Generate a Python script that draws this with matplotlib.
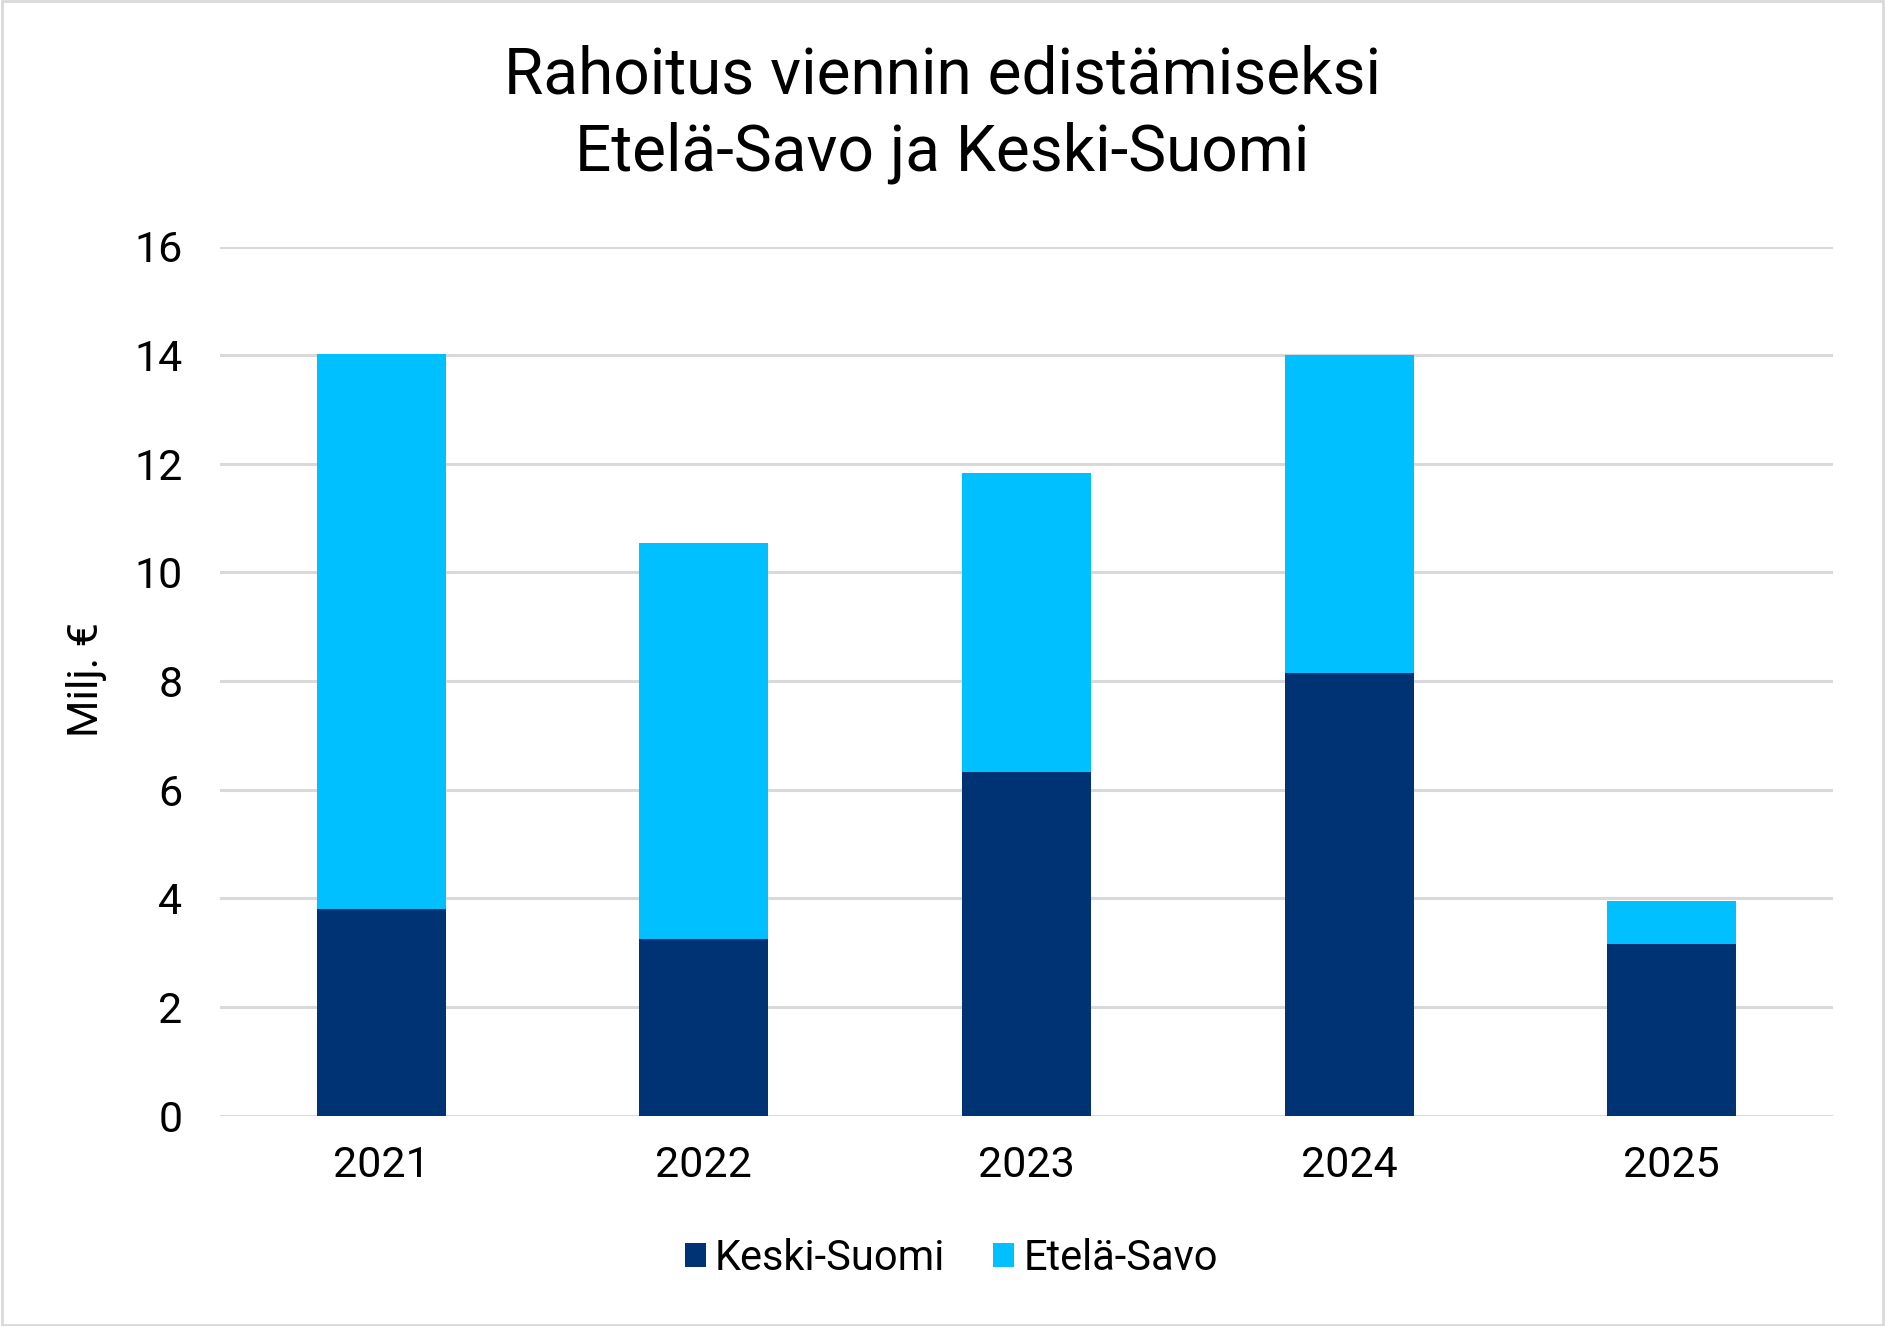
import matplotlib.pyplot as plt
import numpy as np

years = ['2021', '2022', '2023', '2024', '2025']
keski_suomi = [3.80, 3.25, 6.32, 8.15, 3.15]
etela_savo = [10.22, 7.29, 5.51, 5.85, 0.80]

plt.rcParams['font.family'] = ['Roboto', 'DejaVu Sans']

fig = plt.figure(figsize=(18.85, 13.26), dpi=100)
ax = fig.add_axes([220 / 1885, 1 - 1115.6 / 1326, (1833 - 220) / 1885, (1115.6 - 246.5) / 1326])

x = np.arange(len(years))
ax.bar(x, keski_suomi, width=0.4, color='#003373', label='Keski-Suomi', zorder=3)
ax.bar(x, etela_savo, width=0.4, bottom=keski_suomi, color='#00C0FF', label='Etelä-Savo', zorder=3)

ax.set_xlim(-0.5, len(years) - 0.5)
ax.set_ylim(0, 16)
ax.set_yticks(range(0, 17, 2))
ax.set_xticks(x)
ax.set_xticklabels(years)
ax.tick_params(axis='both', length=0, labelsize=31)
ax.tick_params(axis='x', pad=21)
ax.tick_params(axis='y', pad=27)
ax.grid(axis='y', color='#D9D9D9', linewidth=2.2, zorder=0)
for s in ax.spines.values():
    s.set_visible(False)

# y-akselin otsikko
fig.text(86 / 1885, 1 - 680 / 1326, 'Milj. €', rotation=90, ha='center', va='center', fontsize=31)

fig.text(0.5, 1 - 76 / 1326, 'Rahoitus viennin edistämiseksi', ha='center', va='center', fontsize=46)
fig.text(0.5, 1 - 153 / 1326, 'Etelä-Savo ja Keski-Suomi', ha='center', va='center', fontsize=46)

fig.legend(loc='center', bbox_to_anchor=(0.5 + 9 / 1885, 1 - 1258 / 1326), ncol=2, frameon=False,
           fontsize=30, handlelength=0.5, handleheight=0.5, handletextpad=0.22, columnspacing=1.15)

fig.patches.append(plt.Rectangle((0.001, 0.001), 0.998, 0.998, transform=fig.transFigure,
                                 fill=False, edgecolor='#D9D9D9', linewidth=2))

plt.savefig('out.png', dpi=100)
plt.close()
